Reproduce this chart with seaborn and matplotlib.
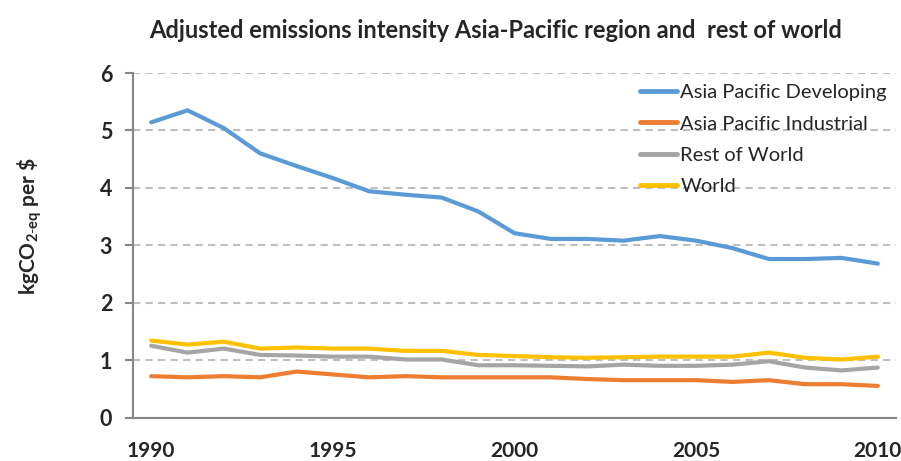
import numpy as np
import pandas as pd
import matplotlib.pyplot as plt
import seaborn as sns

# data
years = list(range(1990, 2011))
ap_developing = [5.14, 5.35, 5.04, 4.60, 4.38, 4.17, 3.94, 3.88, 3.83, 3.59, 3.21,
                 3.11, 3.11, 3.08, 3.16, 3.08, 2.95, 2.76, 2.76, 2.78, 2.68]
ap_industrial = [0.72, 0.70, 0.72, 0.70, 0.80, 0.75, 0.70, 0.72, 0.70, 0.70, 0.70,
                 0.70, 0.67, 0.65, 0.65, 0.65, 0.62, 0.65, 0.58, 0.58, 0.55]
rest_of_world = [1.25, 1.13, 1.20, 1.09, 1.08, 1.06, 1.06, 1.01, 1.01, 0.91, 0.91,
                 0.90, 0.89, 0.92, 0.90, 0.90, 0.92, 0.98, 0.87, 0.82, 0.87]
world = [1.34, 1.27, 1.32, 1.20, 1.22, 1.20, 1.20, 1.16, 1.16, 1.09, 1.07,
         1.05, 1.04, 1.05, 1.06, 1.06, 1.06, 1.13, 1.04, 1.01, 1.06]

series_names = ['Asia Pacific Developing', 'Asia Pacific Industrial', 'Rest of World', 'World']
colors = ['#5B9BD5', '#ED7D31', '#A5A5A5', '#FFC000']

df = pd.DataFrame({
    'year': years * 4,
    'value': ap_developing + ap_industrial + rest_of_world + world,
    'series': np.repeat(series_names, len(years)),
})

sns.set_style('white')
plt.rcParams['font.family'] = ['Lato', 'DejaVu Sans']
plt.rcParams['mathtext.fontset'] = 'custom'
plt.rcParams['mathtext.rm'] = 'Lato'
plt.rcParams['mathtext.bf'] = 'Lato:bold'

fig = plt.figure(figsize=(9.01, 4.61), dpi=100)
ax = fig.add_axes([133 / 901, 1 - 417.5 / 461, (896 - 133) / 901, (417.5 - 73) / 461])

sns.lineplot(data=df, x='year', y='value', hue='series', hue_order=series_names,
             palette=colors, linewidth=3, ax=ax)

ax.set_xlim(1989.5, 2010.5)
ax.set_ylim(0, 6)
ax.set_yticks(range(0, 7))
ax.set_xticks([1990, 1995, 2000, 2005, 2010])
ax.set_xticks(np.arange(1989.5, 2011, 1), minor=True)
ax.tick_params(axis='x', which='major', length=0, pad=17, labelsize=15)
ax.tick_params(axis='x', which='minor', length=6, width=1.5, color='#868686', direction='out')
ax.tick_params(axis='y', length=6, width=1.5, color='#868686', direction='out', pad=9, labelsize=15.5)
ax.tick_params(bottom=True, left=True)
for lab in ax.get_xticklabels() + ax.get_yticklabels():
    lab.set_fontweight('bold')

ax.yaxis.grid(True, color='#BFBFBF', linestyle=(0, (3.5, 2.5)), linewidth=1.5)
ax.set_axisbelow(True)
for s in ['top', 'right']:
    ax.spines[s].set_visible(False)
for s in ['left', 'bottom']:
    ax.spines[s].set_color('#868686')
    ax.spines[s].set_linewidth(1.5)

ax.set_xlabel('')
ax.set_ylabel('')
fig.text(30 / 901, 1 - 226 / 461, r'kgCO$_{\mathbf{2\text{-}eq}}$ per \$', rotation=90,
         ha='center', va='center', fontsize=15, fontweight='bold')

leg = ax.legend(loc='upper right', bbox_to_anchor=(1.012, 1.02), frameon=False, fontsize=14.5,
                handlelength=1.85, handletextpad=0.15, labelspacing=0.7)
for line in leg.get_lines():
    line.set_linewidth(3.5)

fig.text(496 / 901, 1 - 30 / 461, 'Adjusted emissions intensity Asia-Pacific region and  rest of world',
         ha='center', va='center', fontsize=17, fontweight='bold')

fig.savefig('out.png', dpi=100)
